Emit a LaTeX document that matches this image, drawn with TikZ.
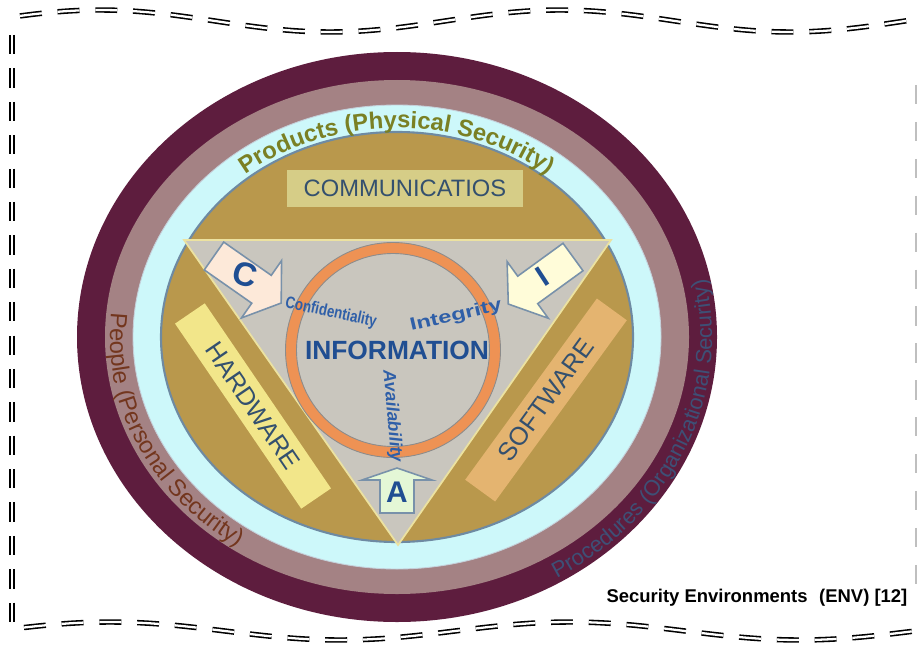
\documentclass[tikz,border=0pt]{standalone}
\usepackage{fontspec}
\setmainfont{Liberation Sans}
\usepackage{xcolor}
\usepackage{tikz}
\usetikzlibrary{decorations.text}

\definecolor{envmaroon}{RGB}{94,29,62}
\definecolor{envmauve}{RGB}{164,130,132}
\definecolor{envcyan}{RGB}{205,248,250}
\definecolor{envgold}{RGB}{185,152,76}
\definecolor{ringline}{RGB}{110,138,162}
\definecolor{trigray}{RGB}{201,198,190}
\definecolor{tririm}{RGB}{236,226,160}
\definecolor{infoorange}{RGB}{238,146,84}
\definecolor{infoblue}{RGB}{32,78,146}
\definecolor{ciablue}{RGB}{47,95,168}
\definecolor{slateblue}{RGB}{52,80,110}
\definecolor{hwyellow}{RGB}{242,230,138}
\definecolor{swtan}{RGB}{228,180,112}
\definecolor{commkhaki}{RGB}{214,205,135}
\definecolor{arrowpeach}{RGB}{253,233,217}
\definecolor{arrowcream}{RGB}{255,252,217}
\definecolor{arrowgreen}{RGB}{228,247,214}
\definecolor{arrowrim}{RGB}{120,145,170}
\definecolor{prodolive}{RGB}{122,128,36}
\definecolor{peoplebrown}{RGB}{115,54,30}
\definecolor{procslate}{RGB}{62,80,118}

\tikzset{
	border/.style={draw=black, line width=0.9pt, double=white, double distance=1.3pt, dash pattern=on 12.5pt off 9pt},
	rightedge/.style={draw=black!25, line width=0.8pt, dash pattern=on 11pt off 10pt},
	arrowline/.style={draw=arrowrim, line width=0.9pt, line join=miter},
	bar/.style={inner sep=0pt, minimum height=0.72cm, minimum width=4.48cm, text=slateblue, font=\fontsize{14.5}{14.5}\selectfont},
	letter/.style={text=infoblue, font=\fontsize{19}{19}\selectfont\bfseries},
	cia/.style={text=ciablue, inner sep=0pt, font=\fontsize{9.5}{9.5}\selectfont\bfseries}
}

\begin{document}
\begin{tikzpicture}[x=0.2mm,y=0.2mm]
	\useasboundingbox (0,0) rectangle (918,644);
	\foreach \rx/\ry/\col in {320/285/envmaroon,292/257/envmauve,264/232/envcyan,236/205/envgold}
	{
		\fill[\col] (397,307) ellipse[x radius=\rx, y radius=\ry];
	}
	\draw[ringline, line width=1.2pt] (397,307) ellipse[x radius=236, y radius=205];
	\draw[ringline!40, line width=0.5pt] (397,307) ellipse[x radius=264, y radius=232];

	\path[decorate, decoration={text along path, text align=center,
		text={|\fontsize{13.5}{13.5}\selectfont\bfseries\color{prodolive}|Products (Physical Security)}}]
		(397,307) ++(150:240 and 209) arc[start angle=150, end angle=30, x radius=240, y radius=209];
	\path[decorate, decoration={text along path, text align=center,
		text={|\fontsize{13.5}{13.5}\selectfont\color{peoplebrown}|People (Personal Security)}}]
		(397,307) ++(166:287 and 252) arc[start angle=166, end angle=244, x radius=287, y radius=252];
	\path[decorate, decoration={text along path, text align=center,
		text={|\fontsize{12.5}{12.5}\selectfont\color{procslate}|Procedures (Organizational Security)}}]
		(397,307) ++(-66:315 and 280) arc[start angle=-66, end angle=19, x radius=315, y radius=280];

	\node[bar, fill=commkhaki, minimum width=4.72cm, minimum height=0.74cm, font=\fontsize{13.5}{13.5}\selectfont] (comm) at (405,455.5) {COMMUNICATIOS};
	\node[bar, fill=hwyellow, rotate=-55.7] (hw) at (253,238) {HARDWARE};
	\node[bar, fill=swtan, rotate=54, minimum height=0.74cm] (sw) at (546,244) {SOFTWARE};

	\draw[fill=trigray, draw=tririm, line width=1pt] (184,404) -- (611,404) -- (398,99) -- cycle;
	\fill[infoorange, even odd rule] (393,294) circle[radius=107.5] (393,294) circle[radius=96.5];
	\draw[black!45, line width=0.5pt] (393,294) circle[radius=107.5] (393,294) circle[radius=96.5];

	\foreach \px/\py/\ang/\len/\hd/\col in {214/388/-35/82/24/arrowpeach,573/387/216/80/24/arrowcream,397/131/90/45/12/arrowgreen}
	{
		\draw[arrowline, fill=\col, shift={(\px,\py)}, rotate=\ang] (0,-17) -- ({\len-\hd},-17) -- ({\len-\hd},-35) -- (\len,0) -- ({\len-\hd},35) -- ({\len-\hd},17) -- (0,17) -- cycle;
	}
	\node[letter, rotate=-15] (lc) at (245,369) {C};
	\node[letter, rotate=33, font=\fontsize{17}{17}\selectfont\bfseries] (li) at (542,367) {I};
	\node[letter, font=\fontsize{17}{17}\selectfont\bfseries] (la) at (397,152) {A};

	\node[text=infoblue, font=\fontsize{15}{15}\selectfont\bfseries] (info) at (397,294) {INFORMATION};
	\node[cia, rotate=-12, xscale=0.8] (conf) at (331,331) {Confidentiality};
	\node[cia, rotate=13, xscale=1.35, font=\fontsize{10}{10}\selectfont\bfseries] (integ) at (456,328) {Integrity};
	\node[cia, rotate=-85, font=\fontsize{10}{10}\selectfont\bfseries\itshape] (avail) at (392,228) {Availability};

	\node[font=\fontsize{10.5}{10.5}\selectfont\bfseries] (cap) at (757,46) {Security Environments\hspace{0.35em} (ENV) [12]};

	\draw[border] plot[domain=20:918, samples=80, smooth] (\x, {623+11*cos(0.7826*(\x-100))});
	\draw[border] plot[domain=24:918, samples=80, smooth] (\x, {13+9*cos(0.7826*(\x-110))});
	\draw[border, dash pattern=on 11pt off 8pt] (12,609) -- (12,16);
	\draw[rightedge] (916,559) -- (916,54);
\end{tikzpicture}
\end{document}
